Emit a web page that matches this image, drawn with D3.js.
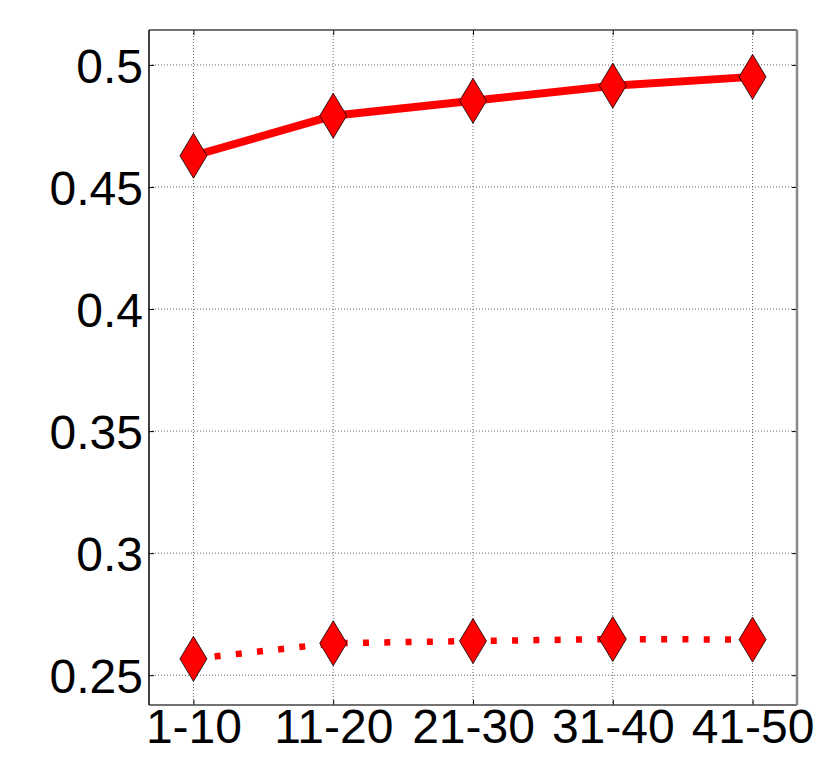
<!DOCTYPE html>
<html>
<head>
<meta charset="utf-8">
<script src="https://cdn.jsdelivr.net/npm/d3@7"></script>
<style>
  html, body { margin: 0; padding: 0; background: #fff; }
  svg { display: block; }
</style>
</head>
<body>
<svg id="chart" width="830" height="767"></svg>
<script>
const categories = ["1-10", "11-20", "21-30", "31-40", "41-50"];
const solidSeries = [0.4628, 0.4792, 0.4853, 0.4915, 0.4951];
const dottedSeries = [0.2567, 0.2631, 0.2640, 0.2648, 0.2646];
const yTicks = [0.25, 0.3, 0.35, 0.4, 0.45, 0.5];
const yTickLabels = ["0.25", "0.3", "0.35", "0.4", "0.45", "0.5"];

const svg = d3.select("#chart");
const L = 149, R = 797, T = 30, B = 705;
const FONT = "'Liberation Sans', Arial, sans-serif";
const FS = 48;

const x = d3.scaleLinear().domain([-0.318, categories.length - 1 + 0.318]).range([L, R]);
const y = d3.scaleLinear().domain([0.2378, 0.5143]).range([B, T]);

// grid
const grid = svg.append("g");
grid.selectAll("line.gx").data(categories).join("line")
  .attr("x1", (d, i) => x(i)).attr("x2", (d, i) => x(i))
  .attr("y1", T).attr("y2", B)
  .attr("stroke", "#666").attr("stroke-width", 1).attr("stroke-dasharray", "1,2");
grid.selectAll("line.gy").data(yTicks).join("line")
  .attr("x1", L).attr("x2", R)
  .attr("y1", d => y(d)).attr("y2", d => y(d))
  .attr("stroke", "#666").attr("stroke-width", 1).attr("stroke-dasharray", "1,2");

// axes with inside ticks
const xAxisB = d3.axisBottom(x).tickValues(categories.map((d, i) => i)).tickFormat(i => categories[i]).tickSizeInner(-5).tickSizeOuter(0).tickPadding(4);
const gx = svg.append("g").attr("transform", `translate(0,${B})`).call(xAxisB);
gx.select(".domain").remove();
gx.selectAll("line").attr("stroke", "#000");
gx.selectAll("text").attr("font-family", FONT).attr("font-size", FS).attr("fill", "#000");

const xAxisT = d3.axisTop(x).tickValues(categories.map((d, i) => i)).tickFormat("").tickSizeInner(-5).tickSizeOuter(0);
const gxt = svg.append("g").attr("transform", `translate(0,${T})`).call(xAxisT);
gxt.select(".domain").remove();
gxt.selectAll("line").attr("stroke", "#000");

const yAxisL = d3.axisLeft(y).tickValues(yTicks).tickFormat((d, i) => yTickLabels[i]).tickSizeInner(-5).tickSizeOuter(0).tickPadding(6);
const gy = svg.append("g").attr("transform", `translate(${L},0)`).call(yAxisL);
gy.select(".domain").remove();
gy.selectAll("line").attr("stroke", "#000");
gy.selectAll("text").attr("font-family", FONT).attr("font-size", FS).attr("fill", "#000").attr("dy", "0.36em");

const yAxisR = d3.axisRight(y).tickValues(yTicks).tickFormat("").tickSizeInner(-5).tickSizeOuter(0);
const gyr = svg.append("g").attr("transform", `translate(${R},0)`).call(yAxisR);
gyr.select(".domain").remove();
gyr.selectAll("line").attr("stroke", "#000");

// series
const line = d3.line().x((d, i) => x(i)).y(d => y(d));
const diamond = (cx, cy) => `M${cx},${cy - 22.5}L${cx + 13.5},${cy}L${cx},${cy + 22.5}L${cx - 13.5},${cy}Z`;

function drawSeries(vals, dash, width) {
  const g = svg.append("g");
  g.append("path").datum(vals).attr("d", line)
    .attr("fill", "none").attr("stroke", "#ff0000").attr("stroke-width", width)
    .attr("stroke-dasharray", dash).attr("stroke-linejoin", "round");
  g.selectAll("path.m").data(vals).join("path").attr("class", "m")
    .attr("d", (d, i) => diamond(x(i), y(d)))
    .attr("fill", "#ff0000").attr("stroke", "#000").attr("stroke-width", 0.8);
}
drawSeries(solidSeries, null, 8);
drawSeries(dottedSeries, "6,15.3", 6.5);

// frame
svg.append("line").attr("x1", L).attr("x2", R).attr("y1", T).attr("y2", T).attr("stroke", "#444").attr("stroke-width", 1.5);
svg.append("line").attr("x1", L).attr("x2", R).attr("y1", B).attr("y2", B).attr("stroke", "#444").attr("stroke-width", 1.5);
svg.append("line").attr("x1", L).attr("x2", L).attr("y1", T).attr("y2", B).attr("stroke", "#000").attr("stroke-width", 1.5);
svg.append("line").attr("x1", R).attr("x2", R).attr("y1", T).attr("y2", B).attr("stroke", "#888").attr("stroke-width", 2.5);
</script>
</body>
</html>
